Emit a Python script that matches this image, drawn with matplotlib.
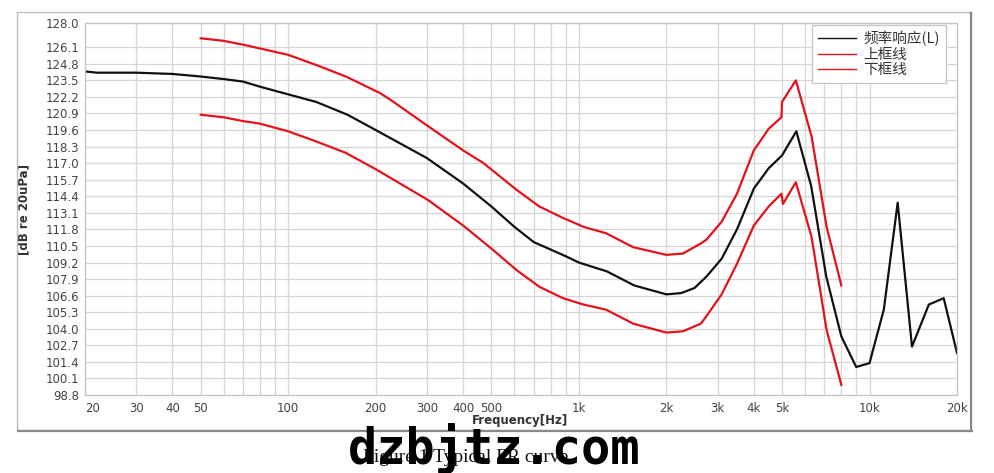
import numpy as np
import matplotlib
matplotlib.use("Agg")
import matplotlib.pyplot as plt
from matplotlib.ticker import FixedLocator, NullFormatter
from matplotlib.lines import Line2D

plt.rcParams['font.family'] = ['DejaVu Sans', 'Noto Sans CJK SC']

# frequency response (L)
f_main = [20, 22, 30, 40, 50, 60, 70, 80, 100, 125, 160, 200, 300, 400, 500, 600, 700,
          900, 1000, 1250, 1550, 2000, 2250, 2500, 2750, 3100, 3500, 4000, 4500, 5000,
          5600, 6300, 7100, 8000, 9000, 10000, 11200, 12500, 14000, 16000, 18000, 20000]
db_main = [124.2, 124.1, 124.1, 124.0, 123.8, 123.6, 123.4, 123.0, 122.4, 121.8, 120.8,
           119.6, 117.4, 115.4, 113.6, 112.0, 110.8, 109.7, 109.2, 108.5, 107.4, 106.7,
           106.8, 107.2, 108.1, 109.5, 111.8, 115.0, 116.6, 117.6, 119.5, 115.2, 108.1,
           103.4, 101.0, 101.3, 105.5, 113.9, 102.6, 105.9, 106.4, 102.1]

# upper limit
f_up = [50, 60, 70, 80, 100, 125, 158, 207, 224, 303, 400, 470, 611, 731, 882, 1038,
        1240, 1539, 2000, 2280, 2630, 2750, 3100, 3500, 4000, 4500, 4980, 5000, 5580,
        6320, 7120, 8000]
db_up = [126.8, 126.6, 126.3, 126.0, 125.5, 124.7, 123.8, 122.5, 122.0, 119.9, 118.0,
         117.0, 114.9, 113.6, 112.7, 112.0, 111.5, 110.4, 109.8, 109.9, 110.7, 111.0,
         112.4, 114.6, 118.0, 119.7, 120.6, 121.8, 123.5, 119.1, 112.0, 107.4]

# lower limit
f_lo = [50, 60, 70, 80, 100, 125, 158, 201, 303, 400, 506, 611, 731, 882, 1038, 1240,
        1539, 2000, 2280, 2630, 2750, 3100, 3500, 4000, 4500, 4980, 5040, 5580, 6320,
        7120, 8000]
db_lo = [120.8, 120.6, 120.3, 120.1, 119.5, 118.7, 117.8, 116.5, 114.1, 112.1, 110.2,
         108.6, 107.3, 106.4, 105.9, 105.5, 104.4, 103.7, 103.8, 104.4, 105.0, 106.7,
         109.1, 112.1, 113.6, 114.6, 113.8, 115.5, 111.2, 103.9, 99.6]

y_ticks = [round(98.8 + 1.3 * k, 1) for k in range(22)] + [128.0]
x_ticks = [20, 30, 40, 50, 100, 200, 300, 400, 500, 1000, 2000, 3000, 4000, 5000, 10000, 20000]
x_labels = ['20', '30', '40', '50', '100', '200', '300', '400', '500', '1k', '2k', '3k',
            '4k', '5k', '10k', '20k']
legend_labels = ['频率响应(L)', '上框线', '下框线']

W, H = 994, 473
fig = plt.figure(figsize=(W / 100, H / 100), dpi=100)
ax = fig.add_axes([85 / W, 1 - 395 / H, 872 / W, 372 / H])

red = '#e3121b'
ax.plot(f_main, db_main, color='#111111', lw=1.6)
ax.plot(f_up, db_up, color=red, lw=1.6)
ax.plot(f_lo, db_lo, color=red, lw=1.6)

ax.set_xscale('log')
ax.set_xlim(20, 20000)
ax.set_ylim(98.8, 128.0)

minors = []
for dec in [10, 100, 1000, 10000]:
    minors += [dec * k for k in range(1, 10) if 20 <= dec * k <= 20000]
ax.xaxis.set_major_locator(FixedLocator(x_ticks))
ax.xaxis.set_minor_locator(FixedLocator(minors))
ax.xaxis.set_minor_formatter(NullFormatter())
ax.set_xticklabels(x_labels)
ax.set_yticks(y_ticks)
ax.set_yticklabels(['%.1f' % v for v in y_ticks])

ax.tick_params(axis='both', which='both', length=0, labelsize=8.5, colors='#444444')
ax.tick_params(axis='y', pad=4)
ax.tick_params(axis='x', pad=5)
lab0 = ax.get_xticklabels()[0]
lab0.set_horizontalalignment('left')

ax.grid(True, which='both', color='#d6d6d6', lw=0.9)
ax.set_axisbelow(True)
for s in ax.spines.values():
    s.set_color('#c4c4c4')
    s.set_linewidth(0.9)

ax.set_ylabel('[dB re 20uPa]', fontsize=8.5, fontweight='bold', color='#333333')
ax.yaxis.set_label_coords(-0.063, 0.5)
ax.set_xlabel('Frequency[Hz]', fontsize=8.5, fontweight='bold', color='#333333')
ax.xaxis.set_label_coords(0.499, -0.052)

handles = [Line2D([], [], color='#111111', lw=1.0),
           Line2D([], [], color=red, lw=1.0),
           Line2D([], [], color=red, lw=1.0)]
leg = ax.legend(handles, legend_labels, loc='upper right', bbox_to_anchor=(0.987, 0.995),
                borderaxespad=0, fancybox=False, framealpha=1, edgecolor='#c8c8c8',
                prop={'family': ['Noto Sans CJK SC', 'DejaVu Sans'], 'size': 10.5},
                handlelength=2.6, handletextpad=0.5, labelspacing=0.12, borderpad=0.4)
for t in leg.get_texts():
    t.set_color('#333333')

# outer frame with shadow edges
fig.add_artist(plt.Rectangle((17 / W, 1 - 430 / H), 954 / W, 418 / H, transform=fig.transFigure,
                             fill=False, edgecolor='#bdbdbd', lw=1.0))
fig.add_artist(Line2D([971 / W, 971 / W], [1 - 431 / H, 1 - 13 / H], transform=fig.transFigure,
                      color='#8a8a8a', lw=1.6))
fig.add_artist(Line2D([18 / W, 972 / W], [1 - 431 / H, 1 - 431 / H], transform=fig.transFigure,
                      color='#8a8a8a', lw=1.6))

fig.text(466 / W, 1 - 457 / H, 'Figure 1 Typical FR curve', ha='center', va='center',
         fontsize=14, family='Liberation Serif', color='#111111')
fig.text(494 / W, 1 - 448 / H, 'dzbjtz.com', ha='center', va='center', fontsize=35,
         family='DejaVu Sans Mono', fontweight='bold', color='black')

fig.savefig('out.png', dpi=100)
